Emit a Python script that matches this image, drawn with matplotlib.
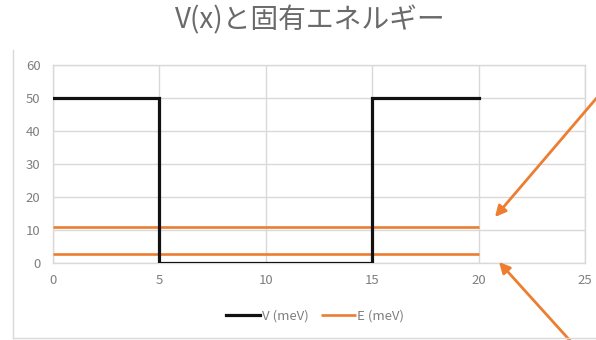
import matplotlib
matplotlib.use("Agg")
import matplotlib.pyplot as plt
from matplotlib.lines import Line2D
from matplotlib.patches import FancyArrowPatch

plt.rcParams['font.family'] = ['Noto Sans CJK JP', 'DejaVu Sans']

# Square well potential V(x) in meV
x_pot = [0, 5, 5, 15, 15, 20]
v_pot = [50, 50, 0, 0, 50, 50]

# Eigen energies (meV), drawn across the whole x range
energies = [2.6, 11.0]
x_energy = [0, 20]

x_ticks = [0, 5, 10, 15, 20, 25]
y_ticks = [0, 10, 20, 30, 40, 50, 60]

W, H = 596, 340
fig = plt.figure(figsize=(W / 100, H / 100), dpi=100)

def fx(px):
    return px / W

def fy(py):
    return 1 - py / H

ax = fig.add_axes([fx(53), fy(263), fx(585) - fx(53), fy(65) - fy(263)])

orange = '#ED7D31'
grid_c = '#D9D9D9'
text_c = '#7F7F7F'

for e in energies:
    ax.plot(x_energy, [e, e], color=orange, lw=1.9, solid_capstyle='butt',
            label='E (meV)' if e == energies[0] else None, zorder=3)
ax.plot(x_pot, v_pot, color='#111111', lw=2.3, solid_joinstyle='miter',
        label='V (meV)', zorder=4)

ax.set_xlim(0, 25)
ax.set_ylim(0, 60)
ax.set_xticks(x_ticks)
ax.set_yticks(y_ticks)
ax.grid(True, color=grid_c, lw=1.0)
ax.set_axisbelow(True)
for s in ax.spines.values():
    s.set_color(grid_c)
    s.set_linewidth(1.0)
ax.tick_params(length=0, labelsize=9.5, labelcolor=text_c)
ax.tick_params(axis='y', pad=9)
ax.tick_params(axis='x', pad=8)

handles, labels = ax.get_legend_handles_labels()
order = [labels.index('V (meV)'), labels.index('E (meV)')]
fig.legend([handles[i] for i in order], [labels[i] for i in order],
           loc='center', bbox_to_anchor=(fx(315), fy(316)), ncol=2,
           frameon=False, fontsize=9.5, handlelength=2.6, handletextpad=0.1,
           columnspacing=1.0, labelcolor=text_c)

fig.text(fx(310), fy(20), 'V(x)と固有エネルギー', ha='center', va='center',
         fontsize=20, color='#6A6A6A')

# chart frame edges
fig.add_artist(Line2D([fx(13), fx(13)], [fy(50), fy(338)], color=grid_c, lw=1.0))
fig.add_artist(Line2D([fx(13), fx(596)], [fy(338), fy(338)], color=grid_c, lw=1.0))

# arrows pointing at the two energy levels
for tail, head in [((606, 87), (495, 217)), ((574, 345), (499, 262))]:
    arr = FancyArrowPatch((fx(tail[0]), fy(tail[1])), (fx(head[0]), fy(head[1])),
                          transform=fig.transFigure, arrowstyle='-|>',
                          mutation_scale=16, lw=2.0, color=orange,
                          shrinkA=0, shrinkB=0)
    fig.add_artist(arr)

fig.savefig('out.png', dpi=100)
